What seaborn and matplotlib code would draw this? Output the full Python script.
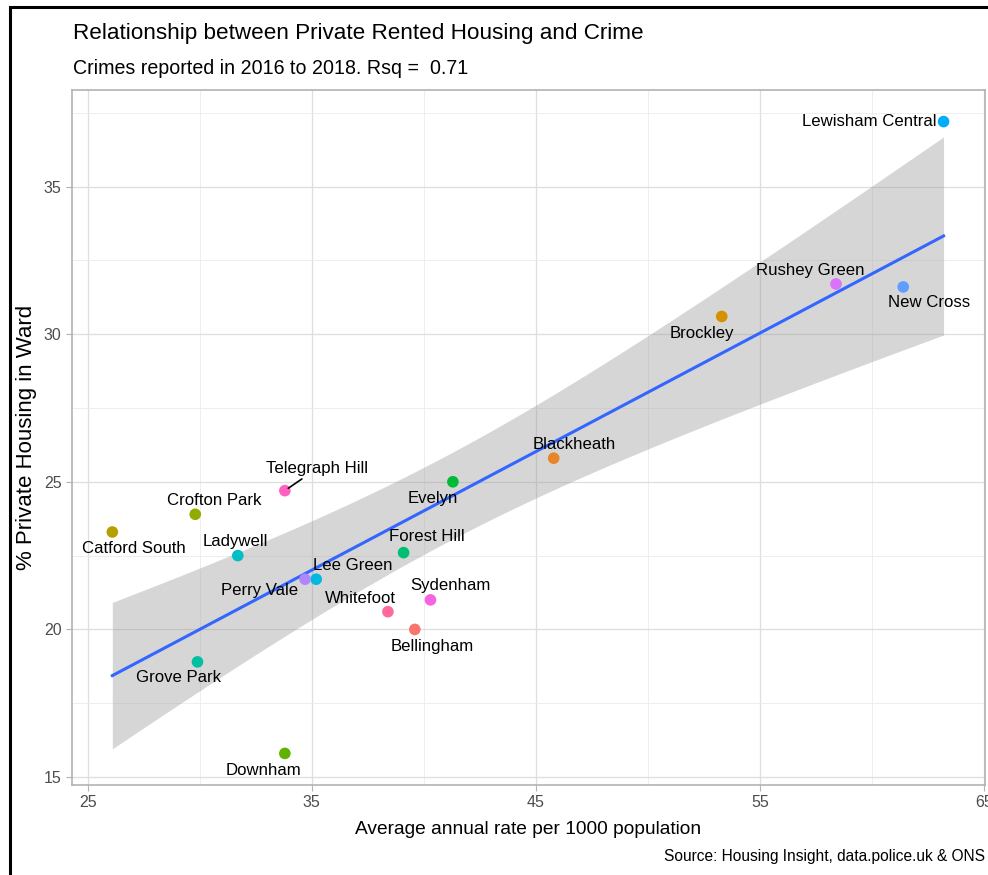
import numpy as np
import pandas as pd
import seaborn as sns
import matplotlib.pyplot as plt
from matplotlib.patches import Rectangle

# Ward level data
wards = ['Bellingham', 'Blackheath', 'Brockley', 'Catford South', 'Crofton Park',
         'Downham', 'Evelyn', 'Forest Hill', 'Grove Park', 'Ladywell', 'Lee Green',
         'Lewisham Central', 'New Cross', 'Perry Vale', 'Rushey Green', 'Sydenham',
         'Telegraph Hill', 'Whitefoot']
crime_rate = [39.6, 45.8, 53.3, 26.1, 29.8, 33.8, 41.3, 39.1, 29.9, 31.7, 35.2,
              63.2, 61.4, 34.7, 58.4, 40.3, 33.8, 38.4]
private_pct = [20.0, 25.8, 30.6, 23.3, 23.9, 15.8, 25.0, 22.6, 18.9, 22.5, 21.7,
               37.2, 31.6, 21.7, 31.7, 21.0, 24.7, 20.6]
x_ticks = [25, 35, 45, 55, 65]
y_ticks = [15, 20, 25, 30, 35]

# label offsets in pixels (dx right, dy down) from each point, ggrepel style
label_offsets = {
    'Bellingham': (17, 17), 'Blackheath': (21, -14), 'Brockley': (-20, 17),
    'Catford South': (22, 17), 'Crofton Park': (19, -14), 'Downham': (-21, 17),
    'Evelyn': (-20, 17), 'Forest Hill': (23, -16), 'Grove Park': (-19, 16),
    'Ladywell': (-2, -14), 'Lee Green': (37, -14), 'Lewisham Central': (-7, 0),
    'New Cross': (26, 16), 'Perry Vale': (-45, 11), 'Rushey Green': (-26, -13),
    'Sydenham': (20, -14), 'Telegraph Hill': (32, -22), 'Whitefoot': (-27, -13),
}

df = pd.DataFrame({'ward': wards, 'rate': crime_rate, 'pct': private_pct})


def hcl_hex(h, c=100, l=65):
    # ggplot2 hue palette colour (polar LUV -> sRGB)
    hr = np.deg2rad(h)
    u, v = c * np.cos(hr), c * np.sin(hr)
    xn, yn, zn = 95.047, 100.0, 108.883
    y = yn * ((l + 16) / 116) ** 3
    un = 4 * xn / (xn + 15 * yn + 3 * zn)
    vn = 9 * yn / (xn + 15 * yn + 3 * zn)
    up = u / (13 * l) + un
    vp = v / (13 * l) + vn
    x = 9 * y * up / (4 * vp)
    z = -x / 3 - 5 * y + 3 * y / vp
    xyz = np.array([x, y, z]) / 100
    m = np.array([[3.240479, -1.537150, -0.498535],
                  [-0.969256, 1.875992, 0.041556],
                  [0.055648, -0.204043, 1.057311]])
    rgb = m @ xyz
    rgb = np.where(rgb > 0.0031308, 1.055 * np.clip(rgb, 0, None) ** (1 / 2.4) - 0.055, 12.92 * rgb)
    rgb = np.clip(rgb, 0, 1)
    return '#%02x%02x%02x' % tuple(int(round(k * 255)) for k in rgb)


hues = np.linspace(15, 375, len(wards) + 1)[:-1]
palette = {w: hcl_hex(h) for w, h in zip(wards, hues)}

plt.rcParams['font.family'] = ['Liberation Sans', 'DejaVu Sans']

fig = plt.figure(figsize=(9.88, 8.75), dpi=100)
ax = fig.add_axes([72 / 988, 1 - 785 / 875, 913 / 988, 695 / 875])

# linear fit with 95% confidence band (as geom_smooth(method='lm'))
xv = df['rate'].values
yv = df['pct'].values
n = len(xv)
b1, b0 = np.polyfit(xv, yv, 1)
resid = yv - (b0 + b1 * xv)
s = np.sqrt(np.sum(resid ** 2) / (n - 2))
xs = np.linspace(xv.min(), xv.max(), 80)
se = s * np.sqrt(1 / n + (xs - xv.mean()) ** 2 / np.sum((xv - xv.mean()) ** 2))
tcrit = 2.119905  # t(0.975, 16)
ax.fill_between(xs, b0 + b1 * xs - tcrit * se, b0 + b1 * xs + tcrit * se,
                color='#999999', alpha=0.4, lw=0, zorder=2)
sns.lineplot(x=xs, y=b0 + b1 * xs, color='#3366FF', lw=2.2, ax=ax, zorder=3)

sns.scatterplot(data=df, x='rate', y='pct', hue='ward', palette=palette,
                s=70, edgecolor='none', legend=False, ax=ax, zorder=4)

for w, xr, yr in zip(wards, crime_rate, private_pct):
    dx, dy = label_offsets[w]
    ha = 'right' if w == 'Lewisham Central' else 'center'
    kw = {}
    if w == 'Telegraph Hill':
        kw['arrowprops'] = dict(arrowstyle='-', color='black', lw=1.2,
                                shrinkA=0, shrinkB=3)
    ax.annotate(w, (xr, yr), xytext=(dx * 0.72, -dy * 0.72), textcoords='offset points',
                ha=ha, va='center', fontsize=12.1, color='black', zorder=5, **kw)

ax.set_xlim(24.3, 65.05)
ax.set_ylim(14.73, 38.27)
ax.set_xticks(x_ticks)
ax.set_yticks(y_ticks)
ax.set_xticks([30, 40, 50, 60], minor=True)
ax.set_yticks([17.5, 22.5, 27.5, 32.5, 37.5], minor=True)
ax.grid(which='major', color='#DEDEDE', lw=0.9)
ax.grid(which='minor', color='#EBEBEB', lw=0.6)
ax.set_axisbelow(True)
for sp in ax.spines.values():
    sp.set_color('#B3B3B3')
    sp.set_linewidth(1.2)
ax.tick_params(which='major', colors='#B3B3B3', labelcolor='#4D4D4D', labelsize=11.5, length=4)
ax.tick_params(which='minor', length=0)
ax.set_xlabel('Average annual rate per 1000 population', fontsize=13.8)
ax.set_ylabel('% Private Housing in Ward', fontsize=16)
ax.xaxis.set_label_coords(0.5, -36 / 695)
ax.yaxis.set_label_coords(-35 / 913, 0.5)

fig.text(73 / 988, 1 - 34 / 875, 'Relationship between Private Rented Housing and Crime',
         fontsize=16.2, ha='left', va='center')
fig.text(73 / 988, 1 - 69 / 875, 'Crimes reported in 2016 to 2018. Rsq =  0.71',
         fontsize=14.1, ha='left', va='center')
fig.text(985 / 988, 1 - 857 / 875, 'Source: Housing Insight, data.police.uk & ONS',
         fontsize=11.2, ha='right', va='center')

# black frame around the image (top and left edges visible)
fig.patches.append(Rectangle((10 / 988, -0.05), 1.2, 1 - 7 / 875 + 0.05,
                             transform=fig.transFigure, fill=False,
                             edgecolor='black', lw=2.2))

fig.savefig('out.png', dpi=100)
